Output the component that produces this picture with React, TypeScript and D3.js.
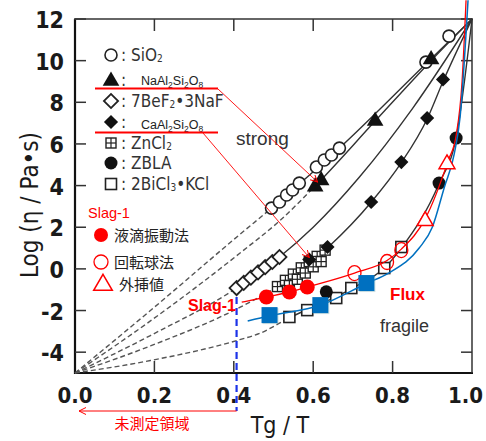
import React from "react";
import * as d3 from "d3";

// axis ticks
const xTicks = [0, 0.2, 0.4, 0.6, 0.8, 1.0];
const yTicks = [-4, -2, 0, 2, 4, 6, 8, 10, 12];

// guide curves, [Tg/T, log eta]
const lineSiO2 = [[0, -5], [0.19, -2.0], [0.415, 1.65], [0.5, 3.0], [0.666, 5.8], [0.884, 9.85], [1, 12]];
const lineNaAl = [[0, -5], [0.19, -2.5], [0.415, 0.75], [0.515, 2.3], [0.611, 4.1], [0.756, 7.1], [0.897, 10.0], [1, 12]];
const lineBeF = [[0, -5], [0.19, -3.2], [0.407, -0.92], [0.515, 0.57], [0.6, 2.0], [0.716, 4.4], [0.85, 7.7], [1, 12]];
const lineCaAl = [[0, -5], [0.19, -3.7], [0.415, -1.85], [0.508, -0.87], [0.641, 1.1], [0.746, 3.2], [0.822, 5.1], [0.887, 7.2], [0.927, 9.0], [1, 12]];
const lineBiCl = [[0, -5], [0.19, -4.4], [0.415, -3.4], [0.465, -3.1], [0.54, -2.35], [0.585, -1.95], [0.658, -1.35], [0.696, -0.95], [0.779, 0.04], [0.822, 1.0], [0.917, 4.1], [0.96, 6.3], [1, 12]];
const dashEnds = [0.49, 0.6, 0.4, 0.5, 0.53];

// measured points
const ptsSiO2 = [[0.495, 2.92], [0.515, 3.21], [0.533, 3.55], [0.548, 3.79], [0.565, 4.12], [0.608, 4.89], [0.628, 5.23], [0.646, 5.47], [0.666, 5.8], [0.884, 9.93], [0.942, 11.18]];
const ptsNaAl = [[0.605, 4.0], [0.62, 4.3], [0.756, 7.15], [0.897, 10.1]];
const ptsBeF = [[0.407, -0.92], [0.425, -0.67], [0.443, -0.42], [0.461, -0.17], [0.479, 0.08], [0.497, 0.33], [0.515, 0.57]];
const ptsCaAl = [[0.59, 0.45], [0.636, 1.05], [0.746, 3.21], [0.822, 5.13], [0.887, 7.24], [0.927, 9.1]];
const ptsZnCl = [[0.51, -0.85], [0.53, -0.55], [0.55, -0.25], [0.57, 0.05], [0.59, 0.35], [0.61, 0.6], [0.63, 0.9], [0.54, -0.8], [0.56, -0.5], [0.58, -0.2], [0.6, 0.1], [0.62, 0.35]];
const ptsZBLA = [[0.633, -1.1], [0.917, 4.12], [0.96, 6.28]];
const ptsBiCl = [[0.54, -2.31], [0.585, -1.98], [0.658, -1.4], [0.696, -0.92], [0.779, 0.04], [0.822, 1.05]];

// Slag-1 and Flux
const slagLine = [[0.42, -1.6], [0.482, -1.35], [0.54, -1.11], [0.585, -0.87], [0.704, -0.2], [0.786, 0.4], [0.822, 0.95], [0.882, 2.4], [0.94, 5.2], [0.96, 6.4], [0.975, 9], [0.985, 12.9]];
const slagDrop = [[0.482, -1.35], [0.54, -1.11], [0.585, -0.87]];
const slagRot = [[0.704, -0.2], [0.786, 0.33], [0.822, 0.9]];
const slagExt = [[0.882, 2.35], [0.937, 5.08]];
const fluxLine = [[0.435, -2.5], [0.49, -2.25], [0.618, -1.75], [0.734, -0.7], [0.79, -0.2], [0.867, 1.0], [0.9, 2.0], [0.93, 3.9], [0.955, 5.5], [0.97, 7.3], [0.99, 12.9]];
const fluxPts = [[0.49, -2.22], [0.618, -1.74], [0.734, -0.68]];
const slagStartX = 0.407;

const W = 486;
const H = 441;
const x = d3.scaleLinear().domain([0, 1]).range([75, 472]);
const y = d3.scaleLinear().domain([-5, 12]).range([373, 19]);

const NARROW = "'Liberation Sans Narrow', 'DejaVu Sans Condensed', 'Liberation Sans', sans-serif";
const SANS = "'Liberation Sans', Arial, sans-serif";
const JP = "'Noto Sans CJK JP', sans-serif";
const INK = "#222";
const RED = "#ff0000";
const BLUE = "#0070c0";

const line = d3.line<number[]>().x((d) => x(d[0])).y((d) => y(d[1])).curve(d3.curveMonotoneX);
const tri = d3.symbol().type(d3.symbolTriangle);

function Mark({ kind, cx, cy }: { kind: string; cx: number; cy: number }) {
  switch (kind) {
    case "circleOpen":
      return <circle cx={cx} cy={cy} r={6} fill="#fff" stroke={INK} strokeWidth={1.6} />;
    case "triFilled":
      return <path d={tri.size(120)()!} transform={`translate(${cx},${cy + 1})`} fill="#111" />;
    case "diamondOpen":
      return <rect x={-5} y={-5} width={10} height={10} transform={`translate(${cx},${cy}) rotate(45)`} fill="#fff" stroke={INK} strokeWidth={1.8} />;
    case "diamondFilled":
      return <rect x={-5} y={-5} width={10} height={10} transform={`translate(${cx},${cy}) rotate(45)`} fill="#111" />;
    case "hatch":
      return (
        <g transform={`translate(${cx},${cy})`}>
          <rect x={-5} y={-5} width={10} height={10} fill="#fff" stroke={INK} strokeWidth={1.4} />
          <line x1={0} x2={0} y1={-5} y2={5} stroke={INK} strokeWidth={1.2} />
          <line x1={-5} x2={5} y1={0} y2={0} stroke={INK} strokeWidth={1.2} />
        </g>
      );
    case "dotFilled":
      return <circle cx={cx} cy={cy} r={6.5} fill="#111" />;
    case "squareOpen":
      return <rect x={cx - 5.5} y={cy - 5.5} width={11} height={11} fill="#fff" stroke={INK} strokeWidth={1.6} />;
    default:
      return null;
  }
}

const blackCurves = [lineSiO2, lineNaAl, lineBeF, lineCaAl, lineBiCl];
const groups: [number[][], string][] = [
  [ptsBeF, "diamondOpen"],
  [ptsZnCl, "hatch"],
  [ptsCaAl, "diamondFilled"],
  [ptsSiO2, "circleOpen"],
  [ptsNaAl, "triFilled"],
  [ptsBiCl, "squareOpen"],
  [ptsZBLA, "dotFilled"],
];

const legend = [
  { kind: "circleOpen", cy: 55, label: "SiO", sub: "2", after: "" },
  { kind: "triFilled", cy: 80, label: "", sub: "", after: "" },
  { kind: "diamondOpen", cy: 101, label: "7BeF", sub: "2", after: "•3NaF" },
  { kind: "diamondFilled", cy: 122, label: "", sub: "", after: "" },
  { kind: "hatch", cy: 143, label: "ZnCl", sub: "2", after: "" },
  { kind: "dotFilled", cy: 163, label: "ZBLA", sub: "", after: "" },
  { kind: "squareOpen", cy: 184, label: "2BiCl", sub: "3", after: "•KCl" },
];

function Formula({ xPos, yPos, parts }: { xPos: number; yPos: number; parts: [string, boolean][] }) {
  return (
    <text x={xPos} y={yPos} fontFamily={SANS} fontSize={12.5} fill="#222">
      {parts.map(([t, sub], i) =>
        sub ? (
          <tspan key={i} fontSize={8.5} dy={3}>{t}</tspan>
        ) : (
          <tspan key={i} dy={i > 0 && parts[i - 1][1] ? -3 : 0}>{t}</tspan>
        )
      )}
    </text>
  );
}

export default function App() {
  const tA = [x(0.611), y(4.17)];
  const tB = [x(0.59), y(0.55)];
  return (
    <div style={{ position: "absolute", left: 0, top: 0 }}>
      <svg width={W} height={H} style={{ display: "block", background: "#fff" }}>
        <defs>
          {dashEnds.map((d, i) => (
            <g key={i}>
              <clipPath id={`cl${i}`}>
                <rect x={0} y={0} width={x(d)} height={H} />
              </clipPath>
              <clipPath id={`cr${i}`}>
                <rect x={x(d)} y={0} width={W} height={H} />
              </clipPath>
            </g>
          ))}
          <marker id="arr" viewBox="0 0 8 8" refX={7} refY={4} markerWidth={8} markerHeight={8} orient="auto" markerUnits="userSpaceOnUse">
            <path d="M0,0.5 L7,4 L0,7.5" fill="none" stroke={RED} strokeWidth={1} />
          </marker>
        </defs>

        {/* frame */}
        <line x1={75} x2={75} y1={19} y2={374} stroke="#111" strokeWidth={2.2} />
        <line x1={74} x2={473} y1={373} y2={373} stroke="#111" strokeWidth={2} />
        <line x1={74} x2={473} y1={19} y2={19} stroke="#333" strokeWidth={1.5} />
        <line x1={472} x2={472} y1={19} y2={373} stroke="#333" strokeWidth={1.5} />
        {yTicks.map((t) => (
          <g key={t}>
            <line x1={75} x2={86} y1={y(t)} y2={y(t)} stroke="#333" strokeWidth={1.5} />
            <line x1={472} x2={461} y1={y(t)} y2={y(t)} stroke="#333" strokeWidth={1.5} />
            <text x={64} y={y(t) + 9} textAnchor="end" fontFamily={NARROW} fontSize={23} fontWeight="bold" fill="#1a1a1a">{t}</text>
          </g>
        ))}
        {xTicks.map((t) => (
          <g key={t}>
            {t > 0 && t < 1 && (
              <>
                <line x1={x(t)} x2={x(t)} y1={373} y2={361} stroke="#333" strokeWidth={1.5} />
                <line x1={x(t)} x2={x(t)} y1={19} y2={31} stroke="#333" strokeWidth={1.5} />
              </>
            )}
            <text
              x={t === 1 ? 483 : x(t)}
              y={403}
              textAnchor={t === 1 ? "end" : "middle"}
              fontFamily={NARROW}
              fontSize={22}
              fontWeight="bold"
              fill="#1a1a1a"
            >
              {t.toFixed(1)}
            </text>
          </g>
        ))}
        <text x={280} y={433} textAnchor="middle" fontFamily={NARROW} fontSize={23} fill="#1a1a1a">Tg / T</text>
        <text transform="translate(38,205) rotate(-90)" textAnchor="middle" fontFamily={NARROW} fontSize={24} fill="#1a1a1a">Log (η / Pa•s)</text>

        {/* guide curves */}
        {blackCurves.map((c, i) => (
          <g key={i}>
            <path d={line(c)!} fill="none" stroke="#555" strokeWidth={1.4} strokeDasharray="5,3" clipPath={`url(#cl${i})`} />
            <path d={line(c)!} fill="none" stroke="#333" strokeWidth={1.4} clipPath={`url(#cr${i})`} />
          </g>
        ))}
        {groups.map(([pts, kind]) =>
          pts.map((p, j) => <Mark key={kind + j} kind={kind} cx={x(p[0])} cy={y(p[1])} />)
        )}

        {/* Slag-1 / Flux */}
        <path d={line(slagLine)!} fill="none" stroke={RED} strokeWidth={1.3} />
        <path d={line(fluxLine)!} fill="none" stroke={BLUE} strokeWidth={1.5} />
        {slagDrop.map((p, i) => <circle key={i} cx={x(p[0])} cy={y(p[1])} r={7.5} fill={RED} />)}
        {slagRot.map((p, i) => <ellipse key={i} cx={x(p[0])} cy={y(p[1])} rx={6.5} ry={7.5} fill="none" stroke={RED} strokeWidth={1.3} />)}
        {slagExt.map((p, i) => (
          <path key={i} d={tri.size(110)()!} transform={`translate(${x(p[0])},${y(p[1]) + 1})`} fill="#fff" stroke={RED} strokeWidth={1.5} />
        ))}
        {fluxPts.map((p, i) => (
          <g key={i}>
            <rect x={x(p[0]) - 7} y={y(p[1]) - 7} width={16} height={16} fill="#7aa" opacity={0.35} />
            <rect x={x(p[0]) - 8} y={y(p[1]) - 8} width={16} height={16} fill={BLUE} />
          </g>
        ))}
        <line x1={x(slagStartX)} x2={x(slagStartX)} y1={y(-1.35)} y2={411} stroke="#1c33e8" strokeWidth={2.2} strokeDasharray="7,4" />

        <text x={236} y={311} textAnchor="end" fontFamily={SANS} fontSize={16} fontWeight="bold" fill={RED}>Slag-1</text>
        <text x={390} y={300} fontFamily={SANS} fontSize={17} fontWeight="bold" fill={RED}>Flux</text>
        <text x={236} y={145} fontFamily={SANS} fontSize={19} fill="#333">strong</text>
        <text x={380} y={332} fontFamily={SANS} fontSize={18} fill="#333">fragile</text>

        {/* legend: reference glasses */}
        {legend.map((l, i) => (
          <g key={i}>
            <Mark kind={l.kind} cx={111} cy={l.cy} />
            <text x={121} y={l.cy + 6} fontFamily={NARROW} fontSize={17} fill="#333">
              {": " + l.label}
              {l.sub && <tspan fontSize={10} dy={1}>{l.sub}</tspan>}
              {l.after && <tspan dy={-1}>{l.after}</tspan>}
            </text>
          </g>
        ))}
        <Formula xPos={141} yPos={85} parts={[["NaAl", false], ["2", true], ["Si", false], ["2", true], ["O", false], ["8", true]]} />
        <Formula xPos={141} yPos={129} parts={[["CaAl", false], ["2", true], ["Si", false], ["2", true], ["O", false], ["8", true]]} />
        <line x1={95} x2={218} y1={88.5} y2={88.5} stroke={RED} strokeWidth={2} />
        <line x1={95} x2={218} y1={132.5} y2={132.5} stroke={RED} strokeWidth={2} />
        <line x1={218} y1={89} x2={tA[0]} y2={tA[1]} stroke={RED} strokeWidth={0.9} markerEnd="url(#arr)" />
        <line x1={203} y1={133} x2={tB[0]} y2={tB[1]} stroke={RED} strokeWidth={0.9} markerEnd="url(#arr)" />

        {/* legend: Slag-1 */}
        <text x={88} y={218} fontFamily={SANS} fontSize={14.5} fill={RED}>Slag-1</text>
        <circle cx={101} cy={235} r={7} fill={RED} />
        <text x={114} y={241} fontFamily={JP} fontSize={15} fill="#222">液滴振動法</text>
        <circle cx={101} cy={262} r={7} fill="none" stroke={RED} strokeWidth={1.3} />
        <text x={114} y={268} fontFamily={JP} fontSize={15} fill="#222">回転球法</text>
        <path d={tri.size(150)()!} transform="translate(103,285)" fill="#fff" stroke={RED} strokeWidth={1.5} />
        <text x={119} y={290} fontFamily={JP} fontSize={15} fill="#222">外挿値</text>

        {/* unmeasured region */}
        <line x1={x(slagStartX)} x2={79} y1={411} y2={411} stroke={RED} strokeWidth={1} markerEnd="url(#arr)" />
        <text x={152} y={429} textAnchor="middle" fontFamily={JP} fontSize={15} fill={RED}>未測定領域</text>
      </svg>
    </div>
  );
}
